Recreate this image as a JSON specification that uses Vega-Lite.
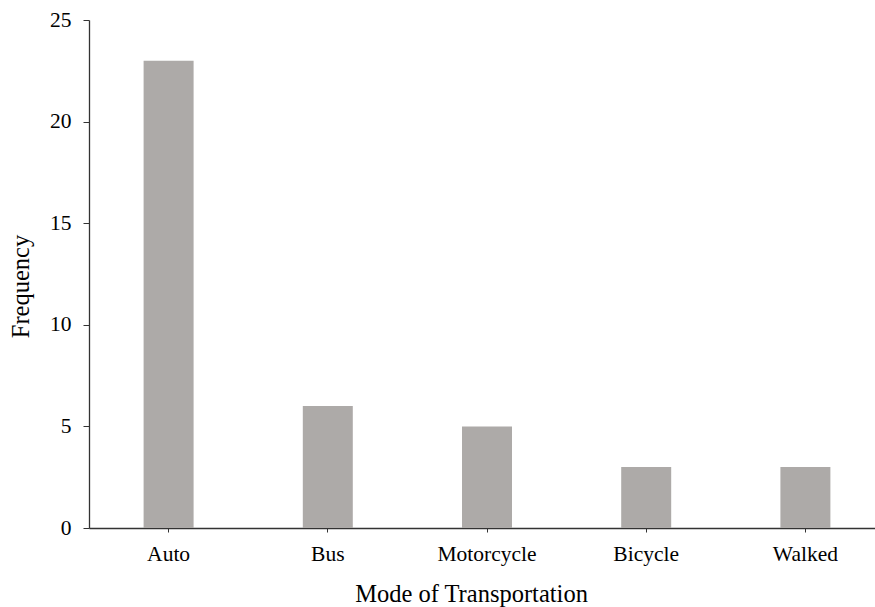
{
  "$schema": "https://vega.github.io/schema/vega-lite/v6.json",
  "width": 796,
  "height": 508,
  "autosize": {"type": "none"},
  "padding": {"left": 89, "top": 20, "right": 0, "bottom": 79},
  "background": "white",
  "config": {
    "view": {"stroke": null},
    "font": "Liberation Serif"
  },
  "data": {
    "values": [
      {"mode": "Auto", "frequency": 23},
      {"mode": "Bus", "frequency": 6},
      {"mode": "Motorcycle", "frequency": 5},
      {"mode": "Bicycle", "frequency": 3},
      {"mode": "Walked", "frequency": 3}
    ]
  },
  "mark": {"type": "bar", "color": "#ADAAA8"},
  "encoding": {
    "x": {
      "field": "mode",
      "type": "nominal",
      "sort": null,
      "title": "Mode of Transportation",
      "scale": {"paddingInner": 0.686, "paddingOuter": 0.343},
      "axis": {
        "labelAngle": 0,
        "labelFont": "Liberation Serif",
        "labelFontSize": 21.5,
        "labelColor": "#000000",
        "labelPadding": 11,
        "tickSize": 4,
        "tickColor": "#333333",
        "domainColor": "#333333",
        "domainWidth": 1.3,
        "titleFont": "Liberation Serif",
        "titleFontSize": 24.5,
        "titleFontWeight": "normal",
        "titleColor": "#000000",
        "titlePadding": 18,
        "titleX": 382
      }
    },
    "y": {
      "field": "frequency",
      "type": "quantitative",
      "title": "Frequency",
      "scale": {"domain": [0, 25]},
      "axis": {
        "values": [0, 5, 10, 15, 20, 25],
        "grid": false,
        "labelFont": "Liberation Serif",
        "labelFontSize": 21.5,
        "labelColor": "#000000",
        "labelPadding": 12,
        "tickSize": 6,
        "tickColor": "#333333",
        "domainColor": "#333333",
        "domainWidth": 1.3,
        "titleFont": "Liberation Serif",
        "titleFontSize": 24.5,
        "titleFontWeight": "normal",
        "titleColor": "#000000",
        "titlePadding": 16,
        "titleY": 266
      }
    }
  }
}
